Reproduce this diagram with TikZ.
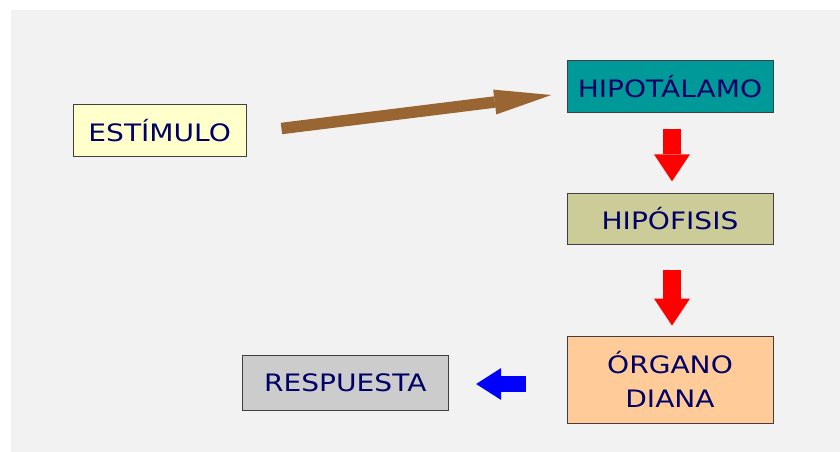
\documentclass[tikz,border=0pt]{standalone}
\usepackage{fontspec}
\usetikzlibrary{arrows.meta}
\newfontfamily\boxfont{DejaVu Sans}[FakeStretch=1.17]
\definecolor{fondo}{HTML}{F2F2F2}
\definecolor{azuloscuro}{HTML}{000066}
\definecolor{amarillo}{HTML}{FFFFCC}
\definecolor{turquesa}{HTML}{009999}
\definecolor{caqui}{HTML}{CCCC99}
\definecolor{salmon}{HTML}{FFCC99}
\definecolor{gris}{HTML}{CCCCCC}
\definecolor{marron}{HTML}{996633}

\begin{document}
\begin{tikzpicture}[x=1pt,y=-1pt,
  caja/.style={draw=black!75,line width=0.8pt,inner sep=0pt,text=azuloscuro,
    font=\boxfont\fontsize{24}{33.6}\selectfont,align=center},
  roja/.style={line width=18pt,red,-{Triangle[length=27pt,width=36pt,line width=0pt]}},
  azul/.style={line width=16pt,blue,-{Triangle[length=25pt,width=32pt,line width=0pt]}},
  parda/.style={line width=11.5pt,marron,-{Triangle[length=57pt,width=25pt,line width=0pt]}}]

\useasboundingbox (0,0) rectangle (840,452);
\fill[fondo] (11,10) rectangle (840,452);

\node[caja,fill=amarillo,minimum width=172.7pt,minimum height=51.7pt] (estimulo) at (159.7,130.2) {ESTÍMULO};
\node[caja,fill=turquesa,minimum width=206pt,minimum height=51.3pt] (hipot) at (670,86.3) {HIPOTÁLAMO};
\node[caja,fill=caqui,minimum width=206pt,minimum height=50.7pt] (hipof) at (670,218.7) {HIPÓFISIS};
\node[caja,fill=salmon,minimum width=206pt,minimum height=87pt] (organo) at (670,379.5) {ÓRGANO\\DIANA};
\node[caja,fill=gris,minimum width=205.5pt,minimum height=55.7pt] (respuesta) at (345.3,382.9) {RESPUESTA};

\draw[parda] ([xshift=35pt,yshift=1.7pt]estimulo.east) -- ([xshift=-15.3pt,yshift=-8.7pt]hipot.west);
\draw[roja] ([xshift=2pt,yshift=-17pt]hipot.south) -- ([xshift=2pt,yshift=11.6pt]hipof.north);
\draw[roja] ([xshift=2pt,yshift=-26pt]hipof.south) -- ([xshift=2pt,yshift=10pt]organo.north);
\draw[azul] ([xshift=-41pt,yshift=-4.5pt]organo.west) -- ([xshift=27.7pt,yshift=-1.1pt]respuesta.east);

\end{tikzpicture}
\end{document}
